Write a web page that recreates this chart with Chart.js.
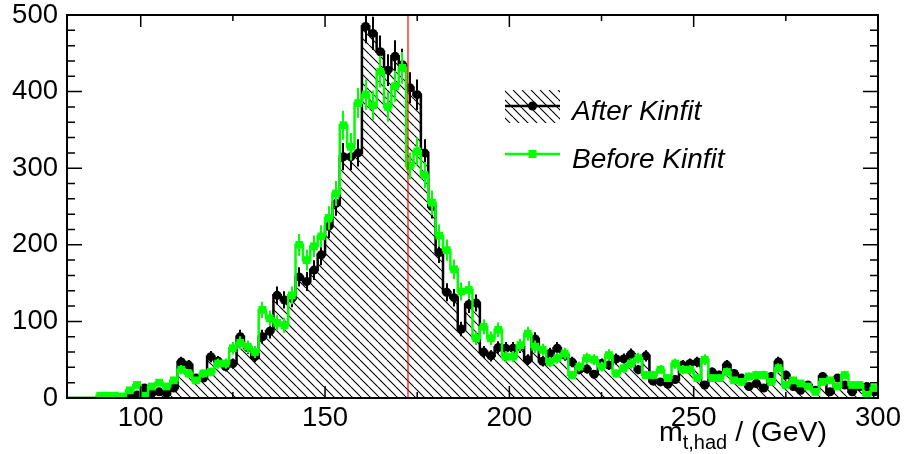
<!DOCTYPE html>
<html>
<head>
<meta charset="utf-8">
<script src="https://cdn.jsdelivr.net/npm/chart.js@4.4.1/dist/chart.umd.min.js"></script>
<style>
  html, body { margin: 0; padding: 0; background: #fff; }
  #wrap { width: 904px; height: 454px; position: relative; }
</style>
</head>
<body>
<div id="wrap"><canvas id="c" width="904" height="454"></canvas></div>
<script>
// Hadronic top mass, 2 GeV bins from 80 to 300 GeV (bin centres)
const binCenters = [
   81,  83,  85,  87,  89,  91,  93,  95,  97,  99,
  101, 103, 105, 107, 109, 111, 113, 115, 117, 119,
  121, 123, 125, 127, 129, 131, 133, 135, 137, 139,
  141, 143, 145, 147, 149, 151, 153, 155, 157, 159,
  161, 163, 165, 167, 169, 171, 173, 175, 177, 179,
  181, 183, 185, 187, 189, 191, 193, 195, 197, 199,
  201, 203, 205, 207, 209, 211, 213, 215, 217, 219,
  221, 223, 225, 227, 229, 231, 233, 235, 237, 239,
  241, 243, 245, 247, 249, 251, 253, 255, 257, 259,
  261, 263, 265, 267, 269, 271, 273, 275, 277, 279,
  281, 283, 285, 287, 289, 291, 293, 295, 297, 299
];
const binWidth = 2;

// Entries per bin after the kinematic fit
const afterKinfit = [
    0,   0,   0,   0,   0,   0,   0,   0,   2,   4,
   13,   6,   8,   6,  13,  47,  43,  26,  26,  54,
   48,  41,  45,  80,  66,  54,  80,  87, 134, 128,
  130, 158, 152, 167, 187, 224, 254, 315, 315, 320,
  485, 476, 452, 428, 446, 435, 405, 396, 320, 250,
  190, 138, 131,  90, 122, 124,  60,  55,  66,  65,
   65,  67,  50,  77,  48,  58,  65,  56,  47,  37,
   38,  31,  45,  43,  51,  51,  57,  37,  55,  22,
   21,  18,  24,  43,  45,  47,  17,  34,  30,  43,
   32,  26,  15,  19,  13,  28,  47,  30,  15,  10,
   17,  10,  28,   8,  26,  17,   8,  15,  15,   8
];

// Entries per bin before the kinematic fit
const beforeKinfit = [
    0,   0,   0,   0,   3,   3,   3,   2,  10,  17,
    3,  15,  20,  15,  23,  37,  32,  23,  32,  34,
   45,  45,  65,  72,  67,  60, 115, 104,  98,  95,
  134, 200, 180, 198, 211, 235, 267, 356, 328, 385,
  396, 382, 426, 380, 407, 431, 303, 322, 291, 255,
  212, 193, 168, 139, 141,  78,  93,  78,  89,  54,
   54,  69,  84,  67,  63,  47,  52,  58,  30,  41,
   52,  50,  41,  56,  32,  39,  45,  52,  30,  30,
   37,  26,  45,  37,  37,  26,  50,  26,  26,  34,
   23,  21,  28,  30,  30,  21,  39,  17,  23,  19,
   15,   8,  21,  23,  15,  30,  17,  17,   4,  13
];

const topMass = 172.5;                       // reference top mass line
const xTickLabels = [100, 150, 200, 250, 300];
const yTickLabels = [0, 100, 200, 300, 400, 500];
const seriesNames = ['After Kinfit', 'Before Kinfit'];

const FONT = '"Liberation Sans", Arial, Helvetica, sans-serif';
const canvas = document.getElementById('c');
const mainCtx = canvas.getContext('2d');

// "\\\\" hatching used for the fitted histogram
function makeHatch() {
  const s = 9;
  const tile = document.createElement('canvas');
  tile.width = s; tile.height = s;
  const g = tile.getContext('2d');
  g.strokeStyle = '#000';
  g.lineWidth = 1.1;
  g.beginPath();
  for (const o of [-s, 0, s]) { g.moveTo(o, 0); g.lineTo(o + s, s); }
  g.stroke();
  return mainCtx.createPattern(tile, 'repeat');
}
const hatch = makeHatch();

// Step outline: bin centres plus the two range edges
function stepData(vals) {
  const pts = binCenters.map((x, i) => ({ x, y: vals[i] }));
  pts.unshift({ x: binCenters[0] - binWidth / 2, y: vals[0] });
  pts.push({ x: binCenters[binCenters.length - 1] + binWidth / 2, y: vals[vals.length - 1] });
  return pts;
}
function markerRadius(r) {
  return ctx => {
    const n = ctx.dataset.data.length;
    if (ctx.dataIndex === 0 || ctx.dataIndex === n - 1) return 0;
    return ctx.raw && ctx.raw.y > 0 ? r : 0;
  };
}

// Poisson error bars drawn right after their own histogram
const errorBarPlugin = {
  id: 'errorBars',
  afterDatasetDraw(chart, args) {
    const ds = chart.data.datasets[args.index];
    if (!ds.errorSource) return;
    const { ctx, chartArea: a, scales: { x, y } } = chart;
    ctx.save();
    ctx.beginPath();
    ctx.rect(a.left, a.top, a.right - a.left, a.bottom - a.top);
    ctx.clip();
    ctx.strokeStyle = ds.borderColor;
    ctx.lineWidth = 2;
    ctx.beginPath();
    ds.errorSource.forEach((v, i) => {
      if (!v) return;
      const e = Math.sqrt(v);
      const px = Math.round(x.getPixelForValue(binCenters[i]));
      ctx.moveTo(px, y.getPixelForValue(v - e));
      ctx.lineTo(px, y.getPixelForValue(v + e));
    });
    ctx.stroke();
    ctx.restore();
  }
};

// Frame with inward ticks on all four sides, legend box and axis title
const framePlugin = {
  id: 'frame',
  afterDraw(chart) {
    const { ctx, chartArea: a, scales: { x, y } } = chart;
    ctx.save();
    ctx.strokeStyle = '#000';
    ctx.lineWidth = 1.5;
    ctx.beginPath();
    for (let v = 100; v <= 300; v += 25) {
      const px = x.getPixelForValue(v);
      const len = v % 50 === 0 ? 12 : 6;
      ctx.moveTo(px, a.bottom); ctx.lineTo(px, a.bottom - len);
      ctx.moveTo(px, a.top); ctx.lineTo(px, a.top + len);
    }
    for (let v = 0; v <= 500; v += 20) {
      const py = y.getPixelForValue(v);
      const len = v % 100 === 0 ? 15 : 8;
      ctx.moveTo(a.left, py); ctx.lineTo(a.left + len, py);
      ctx.moveTo(a.right, py); ctx.lineTo(a.right - len, py);
    }
    ctx.stroke();
    ctx.lineWidth = 2;
    ctx.strokeRect(a.left, a.top, a.right - a.left, a.bottom - a.top);

    // legend
    const lx0 = 505, lx1 = 560, lmid = (lx0 + lx1) / 2;
    ctx.fillStyle = hatch;
    ctx.fillRect(lx0, 90, lx1 - lx0, 33);
    ctx.strokeStyle = '#000';
    ctx.lineWidth = 2.5;
    ctx.beginPath(); ctx.moveTo(lx0, 106); ctx.lineTo(lx1, 106); ctx.stroke();
    ctx.fillStyle = '#000';
    ctx.beginPath(); ctx.arc(lmid, 106, 4.5, 0, Math.PI * 2); ctx.fill();
    ctx.strokeStyle = '#00ff00';
    ctx.beginPath(); ctx.moveTo(lx0, 154); ctx.lineTo(lx1, 154); ctx.stroke();
    ctx.fillStyle = '#00ff00';
    ctx.fillRect(lmid - 4, 150, 8, 8);
    ctx.fillStyle = '#000';
    ctx.font = 'italic 28px ' + FONT;
    ctx.textBaseline = 'alphabetic';
    ctx.textAlign = 'left';
    ctx.fillText(seriesNames[0], 572, 120);
    ctx.fillText(seriesNames[1], 572, 168);

    // x axis title
    ctx.font = '28.5px ' + FONT;
    let tx = 659;
    ctx.fillText('m', tx, 441);
    tx += ctx.measureText('m').width;
    ctx.font = '20px ' + FONT;
    ctx.fillText('t,had', tx, 449);
    tx += ctx.measureText('t,had').width;
    ctx.font = '28.5px ' + FONT;
    ctx.fillText(' / (GeV)', tx, 441);
    ctx.restore();
  }
};

new Chart(canvas, {
  type: 'line',
  data: {
    datasets: [
      {
        label: 'mtop',
        data: [{ x: topMass, y: 0 }, { x: topMass, y: 500 }],
        borderColor: '#ff0000',
        borderWidth: 1.2,
        pointRadius: 0,
        fill: false
      },
      {
        label: seriesNames[1],
        data: stepData(beforeKinfit),
        errorSource: beforeKinfit,
        stepped: 'middle',
        borderColor: '#00ff00',
        borderWidth: 2.5,
        fill: false,
        pointStyle: 'rect',
        pointRadius: markerRadius(5.5),
        pointBackgroundColor: '#00ff00',
        pointBorderWidth: 0
      },
      {
        label: seriesNames[0],
        data: stepData(afterKinfit),
        errorSource: afterKinfit,
        stepped: 'middle',
        borderColor: '#000000',
        borderWidth: 2.5,
        fill: 'origin',
        backgroundColor: hatch,
        pointStyle: 'circle',
        pointRadius: markerRadius(4.5),
        pointBackgroundColor: '#000000',
        pointBorderWidth: 0
      }
    ]
  },
  options: {
    responsive: false,
    animation: false,
    events: [],
    layout: { padding: { top: 15, right: 26, left: 0, bottom: 0 } },
    plugins: { legend: { display: false }, tooltip: { enabled: false } },
    scales: {
      x: {
        type: 'linear',
        min: 80, max: 300,
        grid: { display: false, drawTicks: false, tickLength: 0 },
        border: { display: false },
        afterBuildTicks: s => { s.ticks = xTickLabels.map(v => ({ value: v })); },
        afterFit: s => { s.height = 56; s.paddingLeft = 0; s.paddingRight = 0; },
        ticks: {
          color: '#000',
          font: { family: FONT, size: 27.5 },
          padding: 4,
          maxRotation: 0,
          autoSkip: false
        }
      },
      y: {
        min: 0, max: 500,
        grid: { display: false, drawTicks: false, tickLength: 0 },
        border: { display: false },
        afterBuildTicks: s => { s.ticks = yTickLabels.map(v => ({ value: v })); },
        afterFit: s => { s.width = 67; s.paddingTop = 0; s.paddingBottom = 0; },
        ticks: {
          color: '#000',
          font: { family: FONT, size: 27.5 },
          padding: 9
        }
      }
    }
  },
  plugins: [errorBarPlugin, framePlugin]
});
</script>
</body>
</html>
